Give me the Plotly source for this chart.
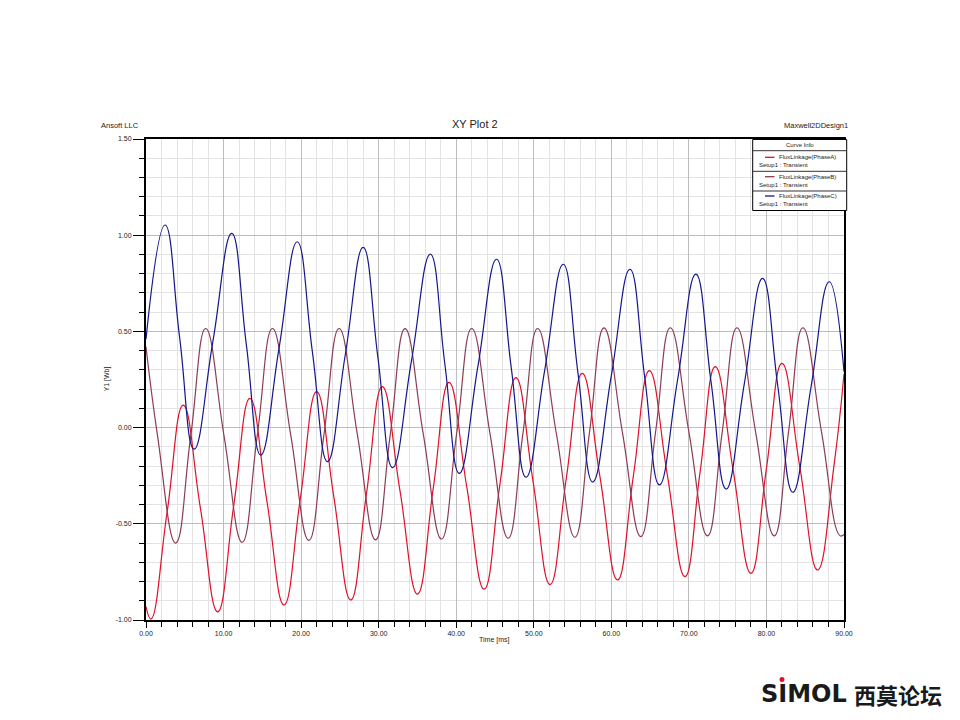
import plotly.graph_objects as go

# ---------------- data ----------------
# Phase A (red): start, extrema and mid-level points
t_a = [0.0, 0.64, 2.72, 4.8, 7.02, 9.24, 11.32, 13.4, 15.6, 17.8, 19.9, 22.0,
       24.2, 26.4, 28.43, 30.47, 32.74, 35.0, 37.04, 39.07, 41.34, 43.6, 45.65, 47.7,
       49.9, 52.1, 54.18, 56.25, 58.53, 60.8, 62.85, 64.9, 67.2, 69.5, 71.45, 73.4,
       75.7, 78.0, 80.0, 82.0, 84.3, 86.6, 88.7, 90.0]
v_a = [-0.93, -0.995, -0.44, 0.117, -0.42, -0.958, -0.403, 0.152, -0.385, -0.922, -0.368, 0.187,
       -0.355, -0.896, -0.342, 0.213, -0.326, -0.865, -0.315, 0.235, -0.303, -0.84, -0.29, 0.26,
       -0.278, -0.816, -0.267, 0.282, -0.255, -0.792, -0.248, 0.296, -0.24, -0.775, -0.229, 0.317,
       -0.22, -0.757, -0.212, 0.334, -0.203, -0.74, -0.2, 0.28]

# Phase B (brown)
t_b = [0.0, 1.48, 3.83, 5.77, 7.7, 10.05, 12.4, 14.35, 16.3, 18.65, 21.0, 22.95,
       24.9, 27.25, 29.6, 31.5, 33.4, 35.75, 38.1, 40.05, 42.0, 44.35, 46.7, 48.6,
       50.5, 52.9, 55.3, 57.18, 59.05, 61.43, 63.8, 65.7, 67.6, 70.0, 72.4, 74.3,
       76.2, 78.6, 81.0, 82.85, 84.7, 87.1, 89.5, 90.0]
v_b = [0.42, -0.04, -0.60, -0.043, 0.515, -0.04, -0.596, -0.04, 0.515, -0.035, -0.586, -0.035,
       0.515, -0.035, -0.584, -0.035, 0.514, -0.033, -0.579, -0.032, 0.515, -0.03, -0.575, -0.03,
       0.515, -0.028, -0.570, -0.026, 0.518, -0.025, -0.567, -0.024, 0.519, -0.022, -0.563, -0.022,
       0.519, -0.022, -0.563, -0.022, 0.519, -0.022, -0.562, -0.555]

# Phase C (blue)
t_c = [0.0, 2.45, 4.33, 6.2, 8.63, 11.05, 12.93, 14.8, 17.15, 19.5, 21.45, 23.4,
       25.7, 28.0, 29.9, 31.8, 34.23, 36.66, 38.53, 40.4, 42.8, 45.2, 47.1, 49.0,
       51.4, 53.8, 55.7, 57.6, 60.0, 62.4, 64.3, 66.2, 68.55, 70.9, 72.85, 74.8,
       77.15, 79.5, 81.45, 83.4, 85.75, 88.1, 90.0]
v_c = [0.46, 1.053, 0.47, -0.112, 0.449, 1.01, 0.434, -0.143, 0.412, 0.966, 0.395, -0.177,
       0.38, 0.937, 0.365, -0.208, 0.347, 0.902, 0.332, -0.238, 0.319, 0.875, 0.309, -0.258,
       0.296, 0.849, 0.283, -0.283, 0.27, 0.823, 0.263, -0.298, 0.25, 0.798, 0.24, -0.319,
       0.229, 0.776, 0.22, -0.336, 0.211, 0.758, 0.29]

series_names = ["FluxLinkage(PhaseA)", "FluxLinkage(PhaseB)", "FluxLinkage(PhaseC)"]
series_setup = "Setup1 : Transient"

x_tick_vals = [0, 10, 20, 30, 40, 50, 60, 70, 80, 90]
x_tick_text = ["0.00", "10.00", "20.00", "30.00", "40.00", "50.00", "60.00", "70.00", "80.00", "90.00"]
y_tick_vals = [-1.0, -0.5, 0.0, 0.5, 1.0, 1.5]
y_tick_text = ["-1.00", "-0.50", "0.00", "0.50", "1.00", "1.50"]

# ---------------- styling ----------------
COLORS = ["#e0102a", "#8c3c52", "#16168c"]
FONT = "Liberation Sans"
TXT = "#222222"

W, H = 960, 720
L, R, T, B = 146, 844, 139, 620  # plot area in pixels


def px(x):
    return (x - L) / (R - L)


def py(y):
    return (B - y) / (B - T)


fig = go.Figure()
for t, v, c, n in zip([t_a, t_b, t_c], [v_a, v_b, v_c], COLORS, series_names):
    fig.add_trace(go.Scatter(x=t, y=v, mode="lines", name=n, showlegend=False,
                             line=dict(color=c, width=1.2, shape="spline", smoothing=1.3),
                             hoverinfo="x+y+name"))

axis_common = dict(
    showline=True, linecolor="black", linewidth=2, mirror=True,
    showgrid=True, gridcolor="#bdbdbd", gridwidth=1, zeroline=False,
    ticks="outside", tickcolor="black", tickwidth=1,
    tickfont=dict(family=FONT, size=7, color=TXT),
    tickmode="array",
)

fig.update_xaxes(range=[0, 90], tickvals=x_tick_vals, ticktext=x_tick_text, ticklen=6,
                 minor=dict(dtick=2, tick0=0, ticks="outside", ticklen=5, tickcolor="black",
                            showgrid=True, gridcolor="#e3e3e3", gridwidth=1),
                 **axis_common)
fig.update_yaxes(range=[-1.0, 1.5], tickvals=y_tick_vals, ticktext=y_tick_text, ticklen=11,
                 minor=dict(dtick=0.1, tick0=0, ticks="outside", ticklen=5, tickcolor="black",
                            showgrid=True, gridcolor="#e3e3e3", gridwidth=1),
                 **axis_common)

ann = []
shapes = []

# header texts
ann.append(dict(text="XY Plot 2", x=px(474.5), y=py(124), xref="paper", yref="paper",
                showarrow=False, xanchor="center", yanchor="middle",
                font=dict(family=FONT, size=11, color=TXT)))
ann.append(dict(text="Ansoft LLC", x=px(99), y=py(125), xref="paper", yref="paper",
                showarrow=False, xanchor="left", yanchor="middle",
                font=dict(family=FONT, size=7.5, color=TXT)))
ann.append(dict(text="Maxwell2DDesign1", x=px(850), y=py(125), xref="paper", yref="paper",
                showarrow=False, xanchor="right", yanchor="middle",
                font=dict(family=FONT, size=7.5, color=TXT)))
# axis titles
ann.append(dict(text="Time [ms]", x=px(494), y=py(640), xref="paper", yref="paper",
                showarrow=False, xanchor="center", yanchor="middle",
                font=dict(family=FONT, size=7, color=TXT)))
ann.append(dict(text="Y1 [Wb]", x=px(106), y=py(379.5), xref="paper", yref="paper",
                showarrow=False, xanchor="center", yanchor="middle", textangle=-90,
                font=dict(family=FONT, size=7, color=TXT)))

# legend box ("Curve Info")
bx0, bx1, by0, by1 = 752.7, 846.7, 139.5, 210.5
shapes.append(dict(type="rect", xref="paper", yref="paper",
                   x0=px(bx0), x1=px(bx1), y0=py(by1), y1=py(by0),
                   line=dict(color="black", width=1), fillcolor="white", layer="above"))
for sy in [150.7, 171.3, 191.0]:
    shapes.append(dict(type="line", xref="paper", yref="paper",
                       x0=px(bx0), x1=px(bx1), y0=py(sy), y1=py(sy),
                       line=dict(color="#333333", width=1), layer="above"))
ann.append(dict(text="Curve Info", x=px((bx0 + bx1) / 2), y=py(145), xref="paper", yref="paper",
                showarrow=False, xanchor="center", yanchor="middle",
                font=dict(family=FONT, size=6, color=TXT)))
entry_y = [157.3, 176.7, 196.0]
for ey, c, n in zip(entry_y, COLORS, series_names):
    shapes.append(dict(type="line", xref="paper", yref="paper",
                       x0=px(765), x1=px(774.5), y0=py(ey), y1=py(ey),
                       line=dict(color=c, width=1.3), layer="above"))
    ann.append(dict(text=n, x=px(776.5), y=py(ey), xref="paper", yref="paper",
                    showarrow=False, xanchor="left", yanchor="middle",
                    font=dict(family=FONT, size=6, color=TXT)))
    ann.append(dict(text=series_setup, x=px(756.5), y=py(ey + 7.8), xref="paper", yref="paper",
                    showarrow=False, xanchor="left", yanchor="middle",
                    font=dict(family=FONT, size=6, color=TXT)))

# watermark logo
ann.append(dict(text="<b>SIMOL</b>", x=px(759), y=py(694), xref="paper", yref="paper",
                showarrow=False, xanchor="left", yanchor="middle",
                font=dict(family="DejaVu Sans", size=24, color="#1a1a1a")))
ann.append(dict(text="<b>西莫论坛</b>", x=px(852), y=py(694), xref="paper", yref="paper",
                showarrow=False, xanchor="left", yanchor="middle",
                font=dict(family="Noto Sans CJK SC", size=22, color="#1a1a1a")))
shapes.append(dict(type="circle", xref="paper", yref="paper",
                   x0=px(779.5), x1=px(784.5), y0=py(682), y1=py(677),
                   line=dict(width=0), fillcolor="#e0102a"))

fig.update_layout(
    width=W, height=H, autosize=False,
    margin=dict(l=L, r=W - R, t=T, b=H - B, pad=0),
    paper_bgcolor="white", plot_bgcolor="white",
    annotations=ann, shapes=shapes, showlegend=False,
)

fig.write_html("out.html")
